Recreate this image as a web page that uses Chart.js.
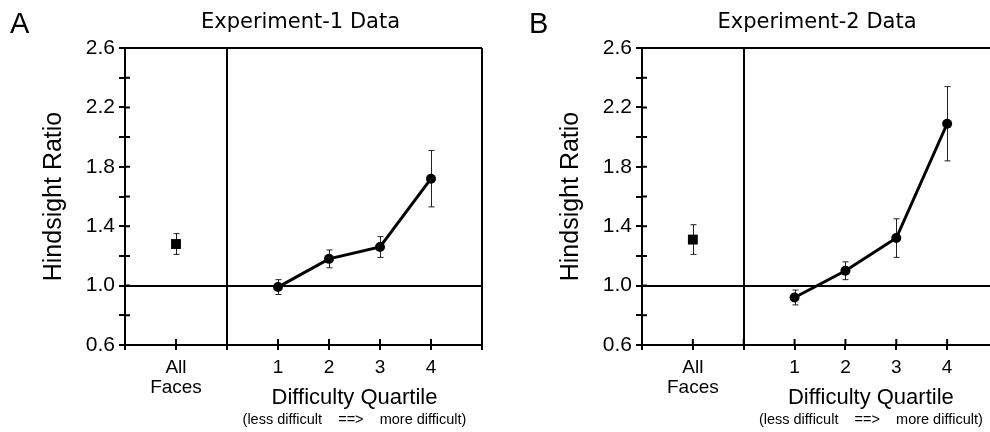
<!DOCTYPE html>
<html lang="en">
<head>
<meta charset="UTF-8">
<title>Hindsight Ratio</title>
<script src="https://cdn.jsdelivr.net/npm/chart.js"></script>
<style>
  html, body { margin: 0; padding: 0; background: #fff; overflow: hidden; }
  body { width: 990px; height: 432px; position: relative; }
  canvas { position: absolute; top: 0; }
  #chartA { left: 0; }
  #chartB { left: 517px; }
</style>
</head>
<body>
<canvas id="chartA" width="495" height="432"></canvas>
<canvas id="chartB" width="495" height="432"></canvas>
<script>
// categories on the x axis
const allLabel = ['All', 'Faces'];
const quartiles = ['1', '2', '3', '4'];
const yLabels = [0.6, 1.0, 1.4, 1.8, 2.2, 2.6];

// Experiment 1
const exp1All = [1.28];
const exp1AllErr = [0.07];
const exp1Means = [0.99, 1.18, 1.26, 1.72];
const exp1Err = [0.05, 0.06, 0.07, 0.19];

// Experiment 2
const exp2All = [1.31];
const exp2AllErr = [0.10];
const exp2Means = [0.92, 1.10, 1.32, 2.09];
const exp2Err = [0.05, 0.06, 0.13, 0.25];

Chart.defaults.font.family = '"Liberation Sans", Arial, sans-serif';
Chart.defaults.color = '#000';

const near = (a, b) => Math.abs(a - b) < 1e-6;

// error bars, inner half of tick marks and the extra texts
const extras = {
    id: 'extras',
    beforeDatasetsDraw(chart) {
        const ctx = chart.ctx;
        const y = chart.scales.y;
        ctx.save();
        ctx.strokeStyle = '#222';
        ctx.lineWidth = 1;
        chart.data.datasets.forEach((ds, i) => {
            chart.getDatasetMeta(i).data.forEach((pt, j) => {
                const v = ds.data[j].y, e = ds.errors[j];
                const top = y.getPixelForValue(v + e), bot = y.getPixelForValue(v - e);
                const x = Math.round(pt.x) + 0.5;
                ctx.beginPath();
                ctx.moveTo(x, top); ctx.lineTo(x, bot);
                ctx.moveTo(x - 3, top); ctx.lineTo(x + 3, top);
                ctx.moveTo(x - 3, bot); ctx.lineTo(x + 3, bot);
                ctx.stroke();
            });
        });
        ctx.restore();
    },
    afterDraw(chart, args, opts) {
        const ctx = chart.ctx;
        const area = chart.chartArea;
        const x = chart.scales.x, y = chart.scales.y;
        ctx.save();
        ctx.strokeStyle = '#000';
        ctx.lineWidth = 2;
        ctx.beginPath();
        y.ticks.forEach(t => {
            const py = y.getPixelForValue(t.value);
            ctx.moveTo(area.left, py); ctx.lineTo(area.left + 5, py);
        });
        x.ticks.forEach(t => {
            const px = x.getPixelForValue(t.value);
            ctx.moveTo(px, area.bottom); ctx.lineTo(px, area.bottom - 6);
        });
        ctx.stroke();

        ctx.fillStyle = '#000';
        ctx.textBaseline = 'alphabetic';
        ctx.textAlign = 'left';
        ctx.font = '29px "Liberation Sans", Arial, sans-serif';
        ctx.fillText(opts.letter, opts.letterX, 33);

        ctx.textAlign = 'center';
        ctx.font = '21px "DejaVu Sans", sans-serif';
        ctx.fillText(opts.title, (area.left + area.right) / 2 - 3, 28);

        const cx = x.getPixelForValue(4.5);
        ctx.font = '22px "Liberation Sans", Arial, sans-serif';
        ctx.fillText('Difficulty Quartile', cx, 404);
        ctx.font = '14.5px "Liberation Sans", Arial, sans-serif';
        ctx.fillText('(less difficult    ==>    more difficult)', cx, 424);
        ctx.restore();
    }
};

function makeChart(id, letter, letterX, title, allVals, allErrs, means, errs, padRight) {
    return new Chart(document.getElementById(id), {
        type: 'scatter',
        data: {
            datasets: [{
                data: allVals.map(v => ({ x: 1, y: v })),
                errors: allErrs,
                pointStyle: 'rect',
                pointRadius: 7,
                pointBorderWidth: 0,
                backgroundColor: '#000',
                borderColor: '#000',
                showLine: false
            }, {
                data: means.map((v, i) => ({ x: i + 3, y: v })),
                errors: errs,
                pointStyle: 'circle',
                pointRadius: 5,
                pointBorderWidth: 0,
                backgroundColor: '#000',
                borderColor: '#000',
                borderWidth: 3,
                showLine: true
            }]
        },
        options: {
            responsive: false,
            animation: false,
            layout: { padding: { top: 48, left: 0, right: padRight, bottom: 0 } },
            plugins: {
                legend: { display: false },
                tooltip: { enabled: false },
                extras: { letter: letter, letterX: letterX, title: title }
            },
            scales: {
                x: {
                    type: 'linear',
                    min: 0,
                    max: 7,
                    afterFit(s) { s.height = 87; },
                    border: { color: '#000', width: 2 },
                    grid: {
                        color: c => (c.tick && (c.tick.value === 2 || c.tick.value === 7)) ? '#000' : 'rgba(0,0,0,0)',
                        lineWidth: 2,
                        tickColor: '#000',
                        tickWidth: 2,
                        tickLength: 5
                    },
                    ticks: {
                        stepSize: 1,
                        autoSkip: false,
                        maxRotation: 0,
                        padding: 8,
                        font: { size: 19, lineHeight: 1.05 },
                        callback: v => v === 1 ? allLabel : (v >= 3 && v <= 6 ? quartiles[v - 3] : '')
                    }
                },
                y: {
                    min: 0.6,
                    max: 2.6,
                    afterFit(s) { s.width = 125; },
                    border: { color: '#000', width: 2 },
                    grid: {
                        color: c => (c.tick && (near(c.tick.value, 1) || near(c.tick.value, 2.6))) ? '#000' : 'rgba(0,0,0,0)',
                        lineWidth: 2,
                        tickColor: '#000',
                        tickWidth: 2,
                        tickLength: 6
                    },
                    ticks: {
                        stepSize: 0.2,
                        autoSkip: false,
                        padding: 4,
                        font: { size: 21 },
                        callback: v => yLabels.some(t => near(t, v)) ? v.toFixed(1) : ''
                    },
                    title: {
                        display: true,
                        text: 'Hindsight Ratio',
                        font: { size: 25 },
                        padding: { top: 39, bottom: 0 }
                    }
                }
            }
        },
        plugins: [extras]
    });
}

makeChart('chartA', 'A', 10, 'Experiment-1 Data', exp1All, exp1AllErr, exp1Means, exp1Err, 13);
makeChart('chartB', 'B', 12, 'Experiment-2 Data', exp2All, exp2AllErr, exp2Means, exp2Err, 14);
</script>
</body>
</html>
